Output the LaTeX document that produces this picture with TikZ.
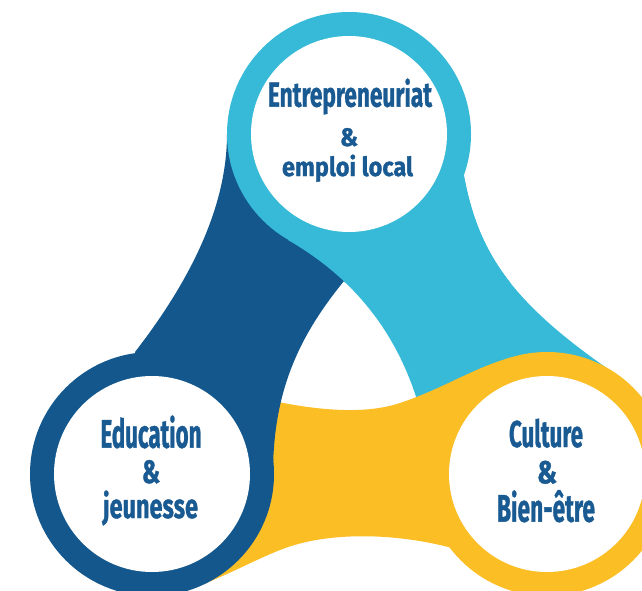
\documentclass[tikz,border=0pt]{standalone}
\usepackage{fontspec}
\setmainfont{Fira Sans}[BoldFeatures={FakeBold=1.2}]
\usepackage{graphicx}
\definecolor{dblue}{HTML}{13578C}
\definecolor{lblue}{HTML}{36BAD8}
\definecolor{ylw}{HTML}{FBBE24}
\definecolor{txt}{HTML}{185A91}
% #1 width, #2 height of the reference glyph #3, #4 text
\newcommand\fitline[4]{\resizebox{#1pt}{#2pt}{\bfseries\setbox0\hbox{#3}\setbox2\hbox{#4}\ht2=\ht0 \box2}}
\begin{document}
\begin{tikzpicture}[x=1pt,y=-1pt,
  lbl/.style={inner sep=0pt, anchor=base, text=txt},
  outerring/.style={circle, inner sep=0pt, minimum size=244pt},
  innerdisk/.style={circle, inner sep=0pt, minimum size=196pt, fill=white}]
\useasboundingbox (0,0) rectangle (642,591);
\coordinate (T) at (349,134);
\coordinate (L) at (152,474);
\coordinate (R) at (547,474);
% light blue band
\fill[lblue] (T) -- (464,176) .. controls (478,250) and (508,300) .. (611,371) -- (R) -- (420,410)
   .. controls (395,320) and (340,270) .. (288,240) -- cycle;
% yellow band
\fill[ylw] (R) -- (547,353) .. controls (495,352) and (455,385) .. (400,403)
   .. controls (367,414) and (320,412) .. (260,398) -- (L) -- (195,587)
   .. controls (222,578) and (250,562) .. (280,550)
   .. controls (330,530) and (400,534) .. (452,548) -- cycle;
% dark blue band
\fill[dblue] (L) -- (135,352) .. controls (197,272) and (227,200) .. (227,134) -- (T) -- (385,255)
   -- (344,281) .. controls (300,335) and (273,390) .. (273,474) -- cycle;
% light blue band again, over the dark blue near the top
\begin{scope}
\clip (0,0) rectangle (642,282);
\fill[lblue] (T) -- (464,176) .. controls (478,250) and (508,300) .. (611,371) -- (R) -- (420,410)
   .. controls (395,320) and (340,270) .. (288,240) -- cycle;
\end{scope}
% rings
\node[outerring, fill=lblue] (Tr) at (T) {};
\node[innerdisk] (Ti) at (T) {};
\node[outerring, fill=dblue] (Lr) at (L) {};
\node[innerdisk] (Li) at (L) {};
\node[outerring, fill=ylw] (Rr) at (R) {};
\node[innerdisk] (Ri) at (R) {};
% texts
\node[lbl] (t1) at (350,106.7) {\fitline{164}{24}{E}{Entrepreneuriat}};
\node[lbl] (t2) at (349,146) {\fitline{18}{18}{\&}{\&}};
\node[lbl] (t3) at (347.5,176) {\fitline{131}{20}{l}{emploi local}};
\node[lbl] (l1) at (151,447.7) {\fitline{101}{27.5}{E}{Education}};
\node[lbl] (l2) at (151,483) {\fitline{18.3}{23}{\&}{\&}};
\node[lbl] (l3) at (150.5,518) {\fitline{95}{18}{x}{jeunesse}};
\node[lbl] (r1) at (546,447) {\fitline{74}{26.5}{C}{Culture}};
\node[lbl] (r2) at (547,483.3) {\fitline{20}{22.6}{\&}{\&}};
\node[lbl] (r3) at (546,521.7) {\fitline{98}{26.7}{B}{Bien-être}};
\end{tikzpicture}
\end{document}
